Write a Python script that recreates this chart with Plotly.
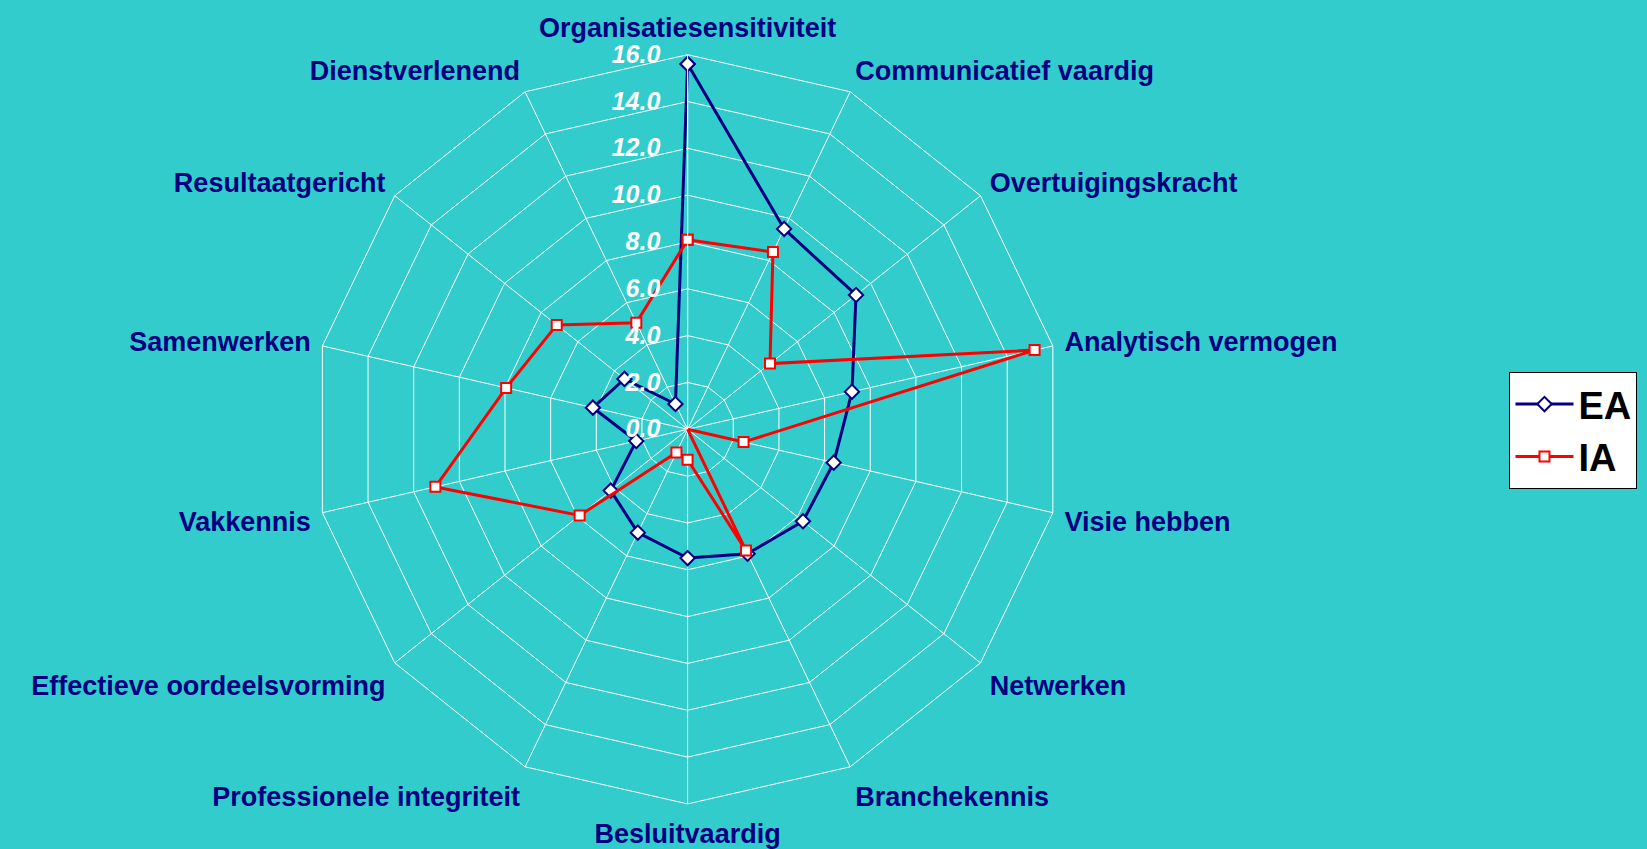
import plotly.graph_objects as go

categories = ["Organisatiesensitiviteit", "Communicatief vaardig", "Overtuigingskracht",
              "Analytisch vermogen", "Visie hebben", "Netwerken", "Branchekennis",
              "Besluitvaardig", "Professionele integriteit", "Effectieve oordeelsvorming",
              "Vakkennis", "Samenwerken", "Resultaatgericht", "Dienstverlenend"]
ea_values = [15.6, 9.5, 9.2, 7.2, 6.4, 6.3, 5.9, 5.5, 4.9, 4.2, 2.25, 4.15, 3.45, 1.2]
ia_values = [8.1, 8.4, 4.5, 15.2, 2.45, 0.0, 5.75, 1.3, 1.1, 5.9, 11.05, 7.95, 7.15, 5.05]
radial_ticks = [0, 2, 4, 6, 8, 10, 12, 14, 16]

BG = "#33CCCC"
NAVY = "#000080"
RED = "#FF0000"
FONT = "Liberation Sans, Arial, sans-serif"

def closed(v):
    return list(v) + [v[0]]

fig = go.Figure()
fig.add_trace(go.Scatterpolar(
    r=closed(ea_values), theta=closed(categories), name="EA", mode="lines+markers",
    line=dict(color=NAVY, width=3),
    marker=dict(symbol="diamond", size=11, color="white", line=dict(color=NAVY, width=2)),
))
fig.add_trace(go.Scatterpolar(
    r=closed(ia_values), theta=closed(categories), name="IA", mode="lines+markers",
    line=dict(color=RED, width=3),
    marker=dict(symbol="square", size=10, color="white", line=dict(color=RED, width=2)),
))

fig.update_layout(
    width=1647, height=849,
    paper_bgcolor=BG, plot_bgcolor=BG,
    margin=dict(l=0, r=0, t=0, b=0),
    font=dict(family=FONT),
    polar=dict(
        bgcolor=BG,
        domain=dict(x=[0.190, 0.645], y=[0.0531, 0.9356]),
        gridshape="linear",
        radialaxis=dict(
            range=[0, 16], tickvals=radial_ticks, tickformat=".1f", angle=90,
            side="counterclockwise", tickangle=90,
            showline=True, linecolor="white", linewidth=1,
            gridcolor="white", gridwidth=1,
            ticks="outside", ticklen=18, tickcolor="rgba(0,0,0,0)",
            tickfont=dict(family=FONT, size=25, color="white", weight="bold", style="italic"),
        ),
        angularaxis=dict(
            direction="clockwise", rotation=90,
            categoryorder="array", categoryarray=categories,
            showline=True, linecolor="white", linewidth=1,
            gridcolor="white", gridwidth=1,
            ticks="outside", ticklen=6, tickcolor="rgba(0,0,0,0)",
            tickfont=dict(family=FONT, size=27, color=NAVY, weight="bold"),
        ),
    ),
    showlegend=True,
    legend=dict(
        x=0.9165, y=0.562, xanchor="left", yanchor="top",
        bgcolor="white", bordercolor="black", borderwidth=1,
        itemwidth=58,
        font=dict(family=FONT, size=38, color="black", weight="bold"),
    ),
)

fig.write_html("out.html", config={"displayModeBar": False},
               post_script="document.body.style.margin='0';")
